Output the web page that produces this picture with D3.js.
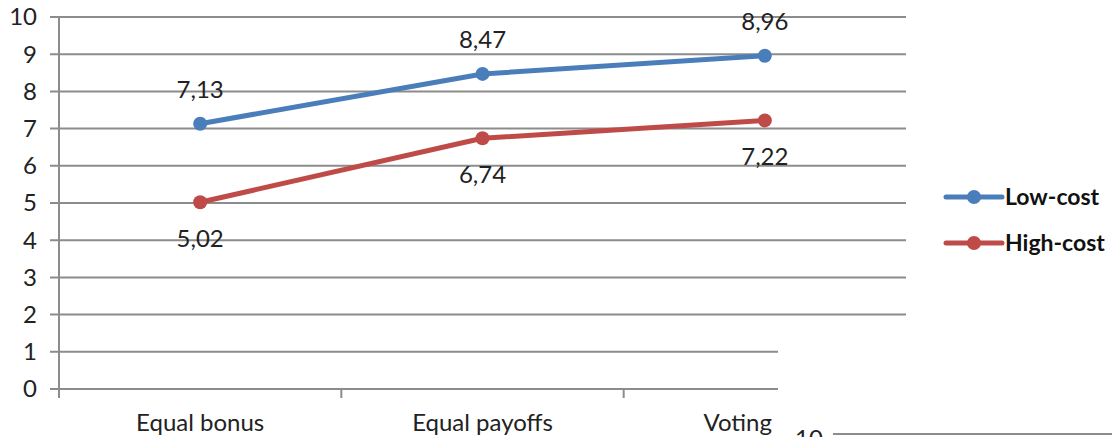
<!DOCTYPE html>
<html lang="en">
<head>
<meta charset="UTF-8">
<title>Low-cost vs High-cost</title>
<style>
  body { margin: 0; padding: 0; background: white; overflow: hidden; }
  text { font-family: Lato, "Open Sans", sans-serif; }
</style>
</head>
<body>
<svg id="chart" width="1112" height="437"></svg>
<script src="https://d3js.org/d3.v7.min.js"></script>
<script>
    const categories = ["Equal bonus", "Equal payoffs", "Voting"];
    const lowCost = [7.13, 8.47, 8.96];
    const highCost = [5.02, 6.74, 7.22];
    const yTicks = [0, 1, 2, 3, 4, 5, 6, 7, 8, 9, 10];

    const BLUE = "#4a7ebb";
    const RED = "#be4b48";
    const GRID = "#8c8c8c";
    const FONT = 24;

    const series = [
        { name: "Low-cost", values: lowCost, color: BLUE, labelPos: "above" },
        { name: "High-cost", values: highCost, color: RED, labelPos: "below" }
    ];

    const svg = d3.select("#chart");
    const plotLeft = 59, plotRight = 906, plotTop = 17, plotBottom = 389;
    const labelLimit = 772; // category labels are kept left of the overlap patch

    const x = d3.scaleBand().domain(categories).range([plotLeft, plotRight]);
    const y = d3.scaleLinear().domain([0, 10]).range([plotBottom, plotTop]);

    const comma = d3.formatLocale({ decimal: ",", thousands: ".", grouping: [3], currency: ["", ""] }).format(".2f");

    // horizontal gridlines
    svg.append("g")
        .selectAll("line")
        .data(yTicks)
        .join("line")
        .attr("x1", plotLeft - 9)
        .attr("x2", plotRight)
        .attr("y1", d => y(d))
        .attr("y2", d => y(d))
        .attr("stroke", GRID)
        .attr("stroke-width", 2);

    // y axis line
    svg.append("line")
        .attr("x1", plotLeft).attr("x2", plotLeft)
        .attr("y1", plotTop).attr("y2", plotBottom + 9)
        .attr("stroke", GRID).attr("stroke-width", 2);

    // x axis ticks at band edges
    const edges = categories.map(c => x(c)).concat([plotRight]);
    svg.append("g")
        .selectAll("line")
        .data(edges.slice(1))
        .join("line")
        .attr("x1", d => d).attr("x2", d => d)
        .attr("y1", plotBottom).attr("y2", plotBottom + 9)
        .attr("stroke", GRID).attr("stroke-width", 2);

    // white patch covering lower right (page overlap in the source)
    svg.append("rect")
        .attr("x", 778).attr("y", 330)
        .attr("width", 334).attr("height", 107)
        .attr("fill", "white");

    // y tick labels
    svg.append("g")
        .selectAll("text")
        .data(yTicks)
        .join("text")
        .attr("x", 37)
        .attr("y", d => y(d))
        .attr("dy", "0.35em")
        .attr("text-anchor", "end")
        .attr("font-size", FONT)
        .attr("fill", "#222")
        .text(d => d);

    // x category labels
    svg.append("g")
        .selectAll("text")
        .data(categories)
        .join("text")
        .attr("y", 431)
        .attr("text-anchor", "middle")
        .attr("font-size", FONT)
        .attr("fill", "#222")
        .text(d => d)
        .attr("x", function(d) {
            const w = this.getComputedTextLength();
            const cx = x(d) + x.bandwidth() / 2;
            return Math.min(cx, labelLimit - w / 2);
        });

    const line = d3.line()
        .x((d, i) => x(categories[i]) + x.bandwidth() / 2)
        .y(d => y(d));

    series.forEach(s => {
        const g = svg.append("g");
        g.append("path")
            .datum(s.values)
            .attr("d", line)
            .attr("fill", "none")
            .attr("stroke", s.color)
            .attr("stroke-width", 5)
            .attr("stroke-linejoin", "round");
        g.selectAll("circle")
            .data(s.values)
            .join("circle")
            .attr("cx", (d, i) => x(categories[i]) + x.bandwidth() / 2)
            .attr("cy", d => y(d))
            .attr("r", 7)
            .attr("fill", s.color);
        g.selectAll("text")
            .data(s.values)
            .join("text")
            .attr("x", (d, i) => x(categories[i]) + x.bandwidth() / 2)
            .attr("y", d => y(d) + (s.labelPos === "above" ? -34 : 36))
            .attr("dy", "0.35em")
            .attr("text-anchor", "middle")
            .attr("font-size", FONT)
            .attr("fill", "#222")
            .text(d => comma(d));
    });

    // legend
    const legend = svg.append("g");
    series.forEach((s, i) => {
        const ly = 197 + i * 46;
        legend.append("line")
            .attr("x1", 946).attr("x2", 1002)
            .attr("y1", ly).attr("y2", ly)
            .attr("stroke", s.color).attr("stroke-width", 5)
            .attr("stroke-linecap", "round");
        legend.append("circle")
            .attr("cx", 974).attr("cy", ly).attr("r", 7)
            .attr("fill", s.color);
        legend.append("text")
            .attr("x", 1005).attr("y", ly)
            .attr("dy", "0.35em")
            .attr("font-size", 23)
            .attr("font-weight", "bold")
            .attr("fill", "#111")
            .text(s.name);
    });

    // top of the next chart peeking in at the bottom right
    svg.append("text")
        .attr("x", 795).attr("y", 447)
        .attr("font-size", FONT)
        .attr("fill", "#222")
        .text("10");
    svg.append("line")
        .attr("x1", 833).attr("x2", 1112)
        .attr("y1", 434).attr("y2", 434)
        .attr("stroke", GRID).attr("stroke-width", 2);
</script>
</body>
</html>
